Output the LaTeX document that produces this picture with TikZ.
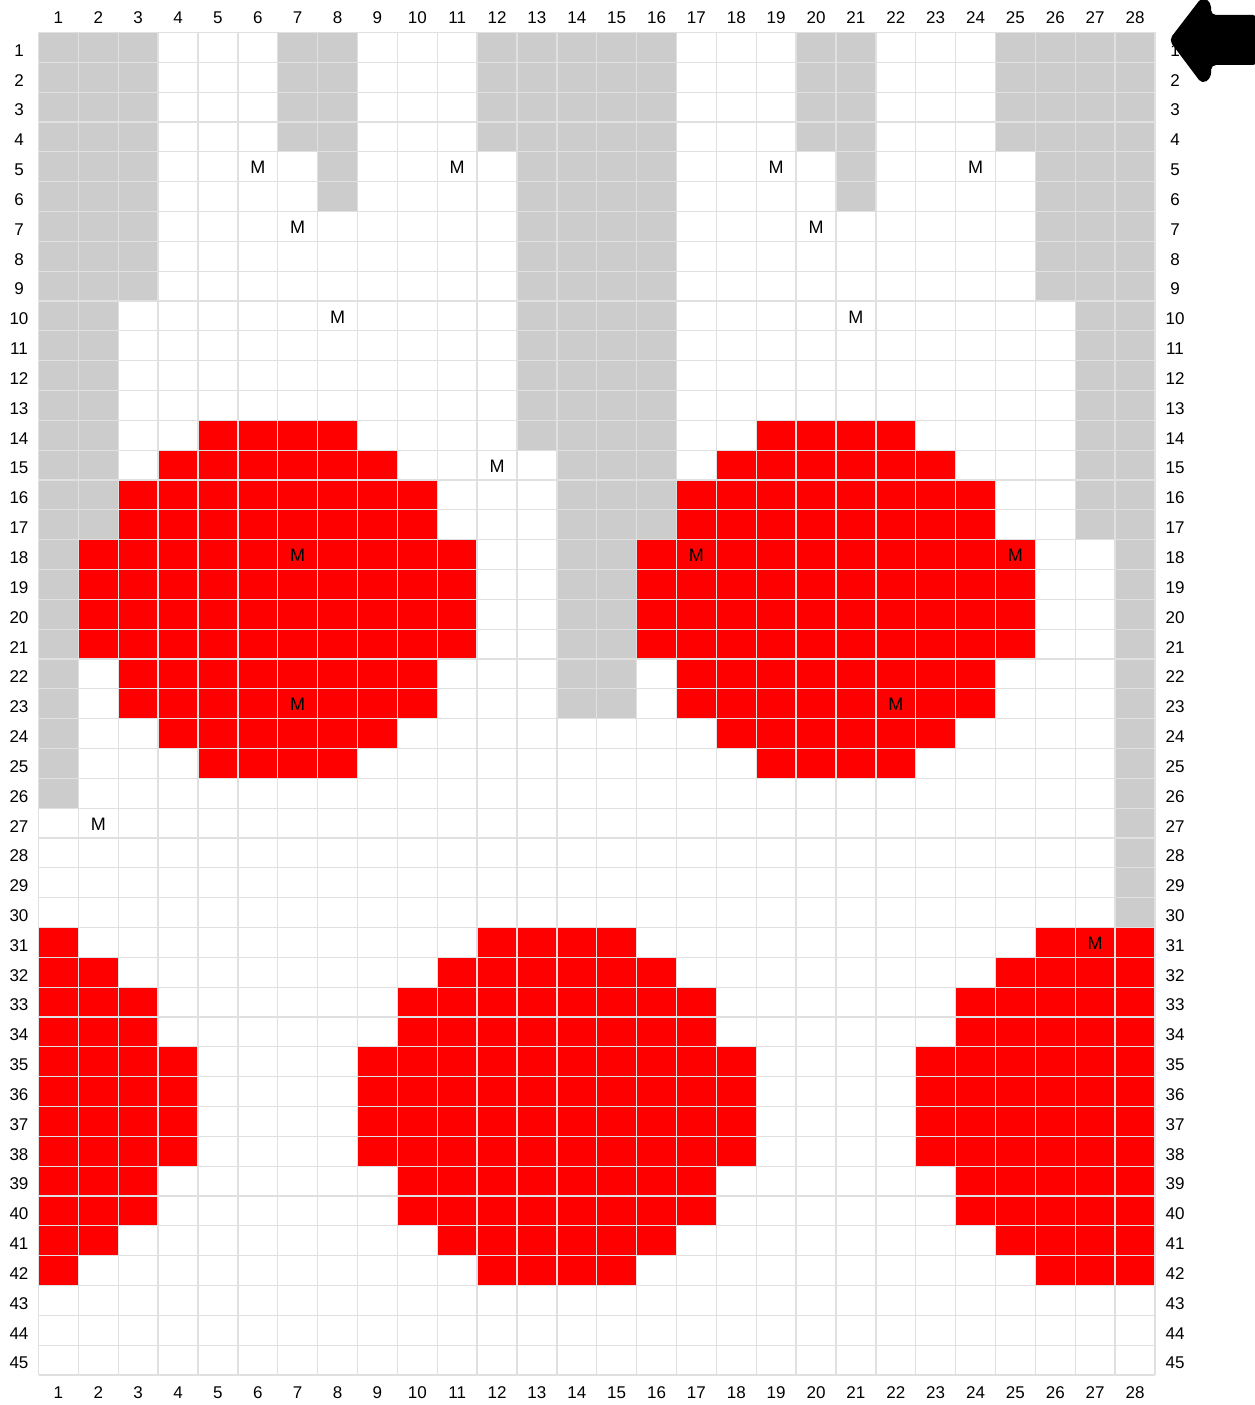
\documentclass[tikz,border=0pt]{standalone}
\usepackage{fontspec}
\setmainfont{Liberation Sans}
\definecolor{gridline}{HTML}{E0E0E0}
\definecolor{cellgray}{HTML}{CCCCCC}
\definecolor{cellred}{HTML}{FF0000}
\begin{document}
\begin{tikzpicture}[x=1pt,y=-1pt,
  lab/.style={inner sep=0pt,font=\fontsize{17}{20}\selectfont},
  mlab/.style={inner sep=0pt,font=\fontsize{18}{21}\selectfont}]
\useasboundingbox (0,0) rectangle (1254,1405);
\fill[white] (0,0) rectangle (1254,1405);
\def\gx{38.5}\def\gy{32.5}\def\cw{39.875}\def\ch{29.833}
% gray cells
\foreach \a/\b/\c/\d in {1/3/1/9, 1/2/10/17, 1/1/18/26, 7/8/1/4, 8/8/5/6,
  12/16/1/4, 13/16/5/14, 14/16/15/17, 14/15/18/23, 20/21/1/4, 21/21/5/6,
  25/28/1/4, 26/28/5/9, 27/28/10/17, 28/28/18/30}
  \fill[cellgray] ({\gx+(\a-1)*\cw},{\gy+(\c-1)*\ch}) rectangle ({\gx+\b*\cw},{\gy+\d*\ch});
% red cells
\foreach \a/\b/\r in {5/8/14, 4/9/15, 3/10/16, 3/10/17, 2/11/18, 2/11/19, 2/11/20, 2/11/21,
  3/10/22, 3/10/23, 4/9/24, 5/8/25,
  19/22/14, 18/23/15, 17/24/16, 17/24/17, 16/25/18, 16/25/19, 16/25/20, 16/25/21,
  17/24/22, 17/24/23, 18/23/24, 19/22/25,
  1/1/31, 1/2/32, 1/3/33, 1/3/34, 1/4/35, 1/4/36, 1/4/37, 1/4/38, 1/3/39, 1/3/40, 1/2/41, 1/1/42,
  12/15/31, 11/16/32, 10/17/33, 10/17/34, 9/18/35, 9/18/36, 9/18/37, 9/18/38, 10/17/39, 10/17/40, 11/16/41, 12/15/42,
  26/28/31, 25/28/32, 24/28/33, 24/28/34, 23/28/35, 23/28/36, 23/28/37, 23/28/38, 24/28/39, 24/28/40, 25/28/41, 26/28/42}
  \fill[cellred] ({\gx+(\a-1)*\cw},{\gy+(\r-1)*\ch}) rectangle ({\gx+\b*\cw},{\gy+\r*\ch});
% grid
\foreach \i in {0,...,28}
  \draw[gridline,line width=1.3pt] ({\gx+\i*\cw},\gy) -- ({\gx+\i*\cw},{\gy+45*\ch});
\foreach \j in {0,...,45}
  \draw[gridline,line width=1.3pt] (\gx,{\gy+\j*\ch}) -- ({\gx+28*\cw},{\gy+\j*\ch});
% column labels
\foreach \i in {1,...,28} {
  \node[lab] (t\i) at ({\gx+(\i-0.5)*\cw},18) {\i};
  \node[lab] (b\i) at ({\gx+(\i-0.5)*\cw},1393) {\i};
}
% row labels
\foreach \i in {1,...,45} {
  \node[lab] (l\i) at (19,{\gy+(\i-0.5)*\ch+3}) {\i};
  \node[lab] (r\i) at (1175,{\gy+(\i-0.5)*\ch+3}) {\i};
}
% M marks
\foreach \c/\r [count=\k] in {6/5, 11/5, 19/5, 24/5, 7/7, 20/7, 8/10, 21/10, 12/15,
  7/18, 17/18, 25/18, 7/23, 22/23, 2/27, 27/31}
  \node[mlab] (m\k) at ({\gx+(\c-0.5)*\cw},{\gy+(\r-0.5)*\ch+1}) {M};
% arrow
\fill[black,rounded corners=5pt] (1169,40) -- (1202,-3) -- (1211,2) -- (1211,15)
  -- (1258,15) -- (1258,65) -- (1211,65) -- (1211,78) -- (1202,84) -- cycle;
\end{tikzpicture}
\end{document}
